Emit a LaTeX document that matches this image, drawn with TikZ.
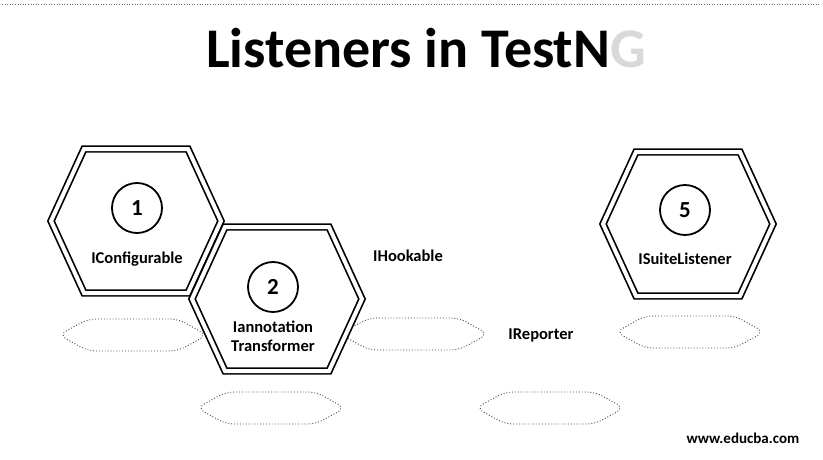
\documentclass[tikz,border=0pt]{standalone}
\usepackage{fontspec}
\setmainfont{Carlito}
\usetikzlibrary{positioning,calc}

\tikzset{
  hexline/.style={draw=black, line width=1.7pt, double=white, double distance=4pt, fill=white},
  shadowline/.style={draw=black!75, dotted, line width=0.9pt, rounded corners=8pt},
  numcircle/.style={circle, draw, line width=1.8pt, minimum size=50pt, inner sep=0pt,
    font=\fontsize{23}{23}\selectfont\bfseries},
  hexlabel/.style={font=\fontsize{16.5}{19}\selectfont\bfseries, align=center},
  plainlabel/.style={font=\fontsize{16.5}{19}\selectfont\bfseries}
}

% double-lined hexagon round a named centre
\newcommand{\hexframe}[1]{%
  \draw[hexline] ($(#1)+(-85,0)$) -- ($(#1)+(-52,-72)$) -- ($(#1)+(52,-72)$)
    -- ($(#1)+(85,0)$) -- ($(#1)+(52,72)$) -- ($(#1)+(-52,72)$) -- cycle;}
% flat dotted shadow
\newcommand{\shadowhex}[1]{%
  \draw[shadowline] ($(#1)+(-74,0)$) -- ($(#1)+(-45,-16)$) -- ($(#1)+(45,-16)$)
    -- ($(#1)+(74,0)$) -- ($(#1)+(45,16)$) -- ($(#1)+(-45,16)$) -- cycle;}

\begin{document}
\begin{tikzpicture}[x=1pt, y=-1pt]
  \useasboundingbox (0,0) rectangle (823,460);

  \coordinate (topl) at (2,4);
  \coordinate (topr) at (821,4);
  \draw[dotted, black!60, line width=0.6pt] (topl) -- (topr);

  \node[font=\fontsize{56}{58}\selectfont\bfseries] (title) at (426,48)
    {Listeners in TestN\textcolor{black!15}{G}};

  % shadows
  \coordinate (sh1) at (133,335);
  \coordinate (sh3) at (414,334);
  \coordinate (sh5) at (690,332);
  \coordinate (sh2) at (271,408);
  \coordinate (sh4) at (550,408);
  \foreach \s in {sh1,sh3,sh5,sh2,sh4} {\shadowhex{\s}}

  % hexagon centres
  \coordinate (hex1) at (136,221);
  \coordinate (hex2) at (277,299);
  \coordinate (hex5) at (688,224);
  \hexframe{hex1}
  \hexframe{hex5}
  \hexframe{hex2}

  \node[numcircle] (num1) at (137,208) {1};
  \node[hexlabel, below=14pt of num1] (conf) {IConfigurable};

  \node[numcircle] (num2) at (273,287) {2};
  \node[hexlabel, below=4pt of num2] (annot) {Iannotation\\Transformer};

  \node[numcircle] (num5) at (685,210) {5};
  \node[hexlabel, below=13pt of num5] (suite) {ISuiteListener};

  \node[plainlabel] (hook) at (408,256) {IHookable};
  \node[plainlabel] (report) at (541,335) {IReporter};

  \node[font=\fontsize{15}{17}\selectfont\bfseries] (site) at (743,438) {www.educba.com};
\end{tikzpicture}
\end{document}
